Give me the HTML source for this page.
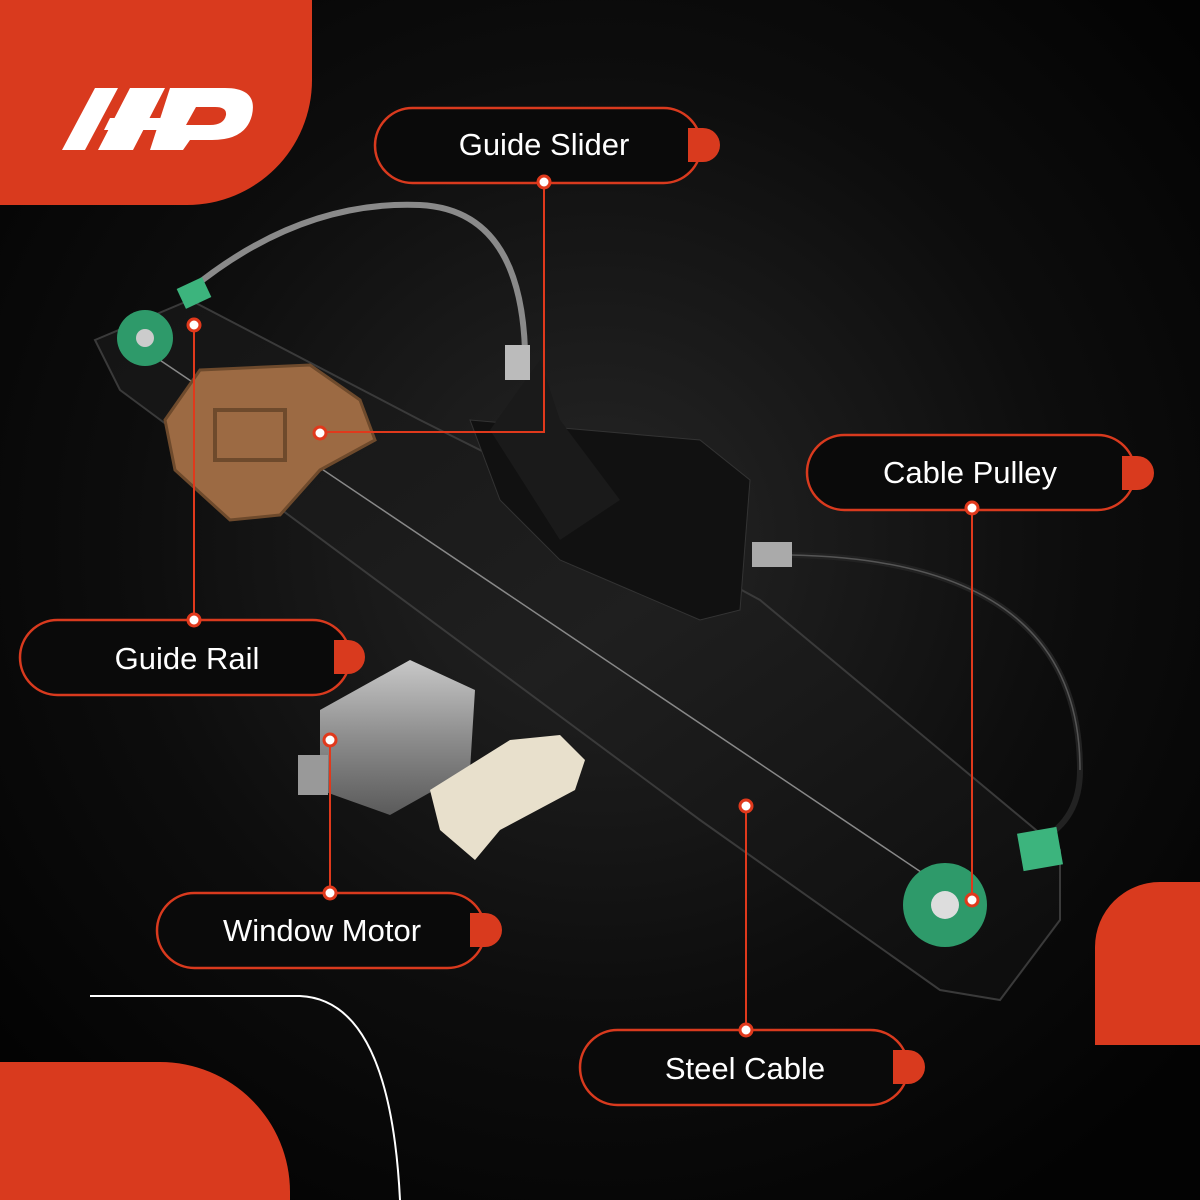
<!DOCTYPE html>
<html><head><meta charset="utf-8"><style>
html,body{margin:0;padding:0;background:#000}
svg{display:block}
text{font-family:"Liberation Sans",sans-serif}
</style></head><body>
<svg width="1200" height="1200" viewBox="0 0 1200 1200" xmlns="http://www.w3.org/2000/svg">
<defs>
<radialGradient id="bg" cx="50%" cy="45%" r="65%">
<stop offset="0" stop-color="#262626"/><stop offset="0.6" stop-color="#0d0d0d"/><stop offset="1" stop-color="#030303"/>
</radialGradient>
<linearGradient id="rail" x1="0" y1="0" x2="1" y2="1">
<stop offset="0" stop-color="#141414"/><stop offset="0.5" stop-color="#1f1f1f"/><stop offset="1" stop-color="#0c0c0c"/>
</linearGradient>
<linearGradient id="motor" x1="0" y1="0" x2="0" y2="1">
<stop offset="0" stop-color="#c8c8c8"/><stop offset="0.5" stop-color="#8d8d8d"/><stop offset="1" stop-color="#5a5a5a"/>
</linearGradient>
</defs>
<rect width="1200" height="1200" fill="url(#bg)"/>
<path d="M0 0 H312 V80 A125 125 0 0 1 187 205 H0 Z" fill="#d93a1e"/>
<path d="M1200 882 H1160 A65 65 0 0 0 1095 947 V1045 H1200 Z" fill="#d93a1e"/>
<path d="M0 1062 H160 A130 130 0 0 1 290 1192 V1200 H0 Z" fill="#d93a1e"/>
<path d="M90 996 H300 Q390 1000 400 1200" fill="none" stroke="#fff" stroke-width="2"/>
<g fill="#fff">
<polygon points="62,150 95,88 118,88 85,150"/>
<polygon points="98,150 130,88 165,88 133,150"/>
<polygon points="110,118 165,118 158,130 104,130"/>
<path d="M170 88 H225 Q258 88 252 115 Q246 140 212 140 H190 L183 150 H150 Z M196 107 L186 125 H210 Q224 125 226 115 Q227 107 215 107 Z" fill-rule="evenodd"/>
</g>
<polygon points="95,340 190,300 420,420 520,470 760,600 1060,850 1060,920 1000,1000 940,990 700,820 120,390" fill="url(#rail)" stroke="#3a3a3a" stroke-width="2"/>
<polygon points="470,420 700,440 750,480 740,610 700,620 560,560 500,500" fill="#111" stroke="#333"/>
<polygon points="490,430 540,360 560,420 620,500 560,540" fill="#1a1a1a"/>
<line x1="130" y1="340" x2="970" y2="905" stroke="#888" stroke-width="1.5"/>
<path d="M190 290 Q300 200 420 205 Q520 210 525 350" fill="none" stroke="#8a8a8a" stroke-width="6"/>
<path d="M790 555 Q1080 560 1080 770 Q1080 820 1040 840" fill="none" stroke="#222" stroke-width="6"/>
<path d="M790 555 Q1080 560 1080 770" fill="none" stroke="#555" stroke-width="1.5"/>
<rect x="752" y="542" width="40" height="25" fill="#aaa"/>
<rect x="505" y="345" width="25" height="35" fill="#bbb"/>
<polygon points="200,370 310,365 360,400 375,440 320,470 280,515 230,520 175,470 165,420" fill="#9c6a43" stroke="#6e4a2c" stroke-width="3"/>
<rect x="215" y="410" width="70" height="50" fill="none" stroke="#6e4a2c" stroke-width="4"/>
<circle cx="145" cy="338" r="28" fill="#2e9a6a"/><circle cx="145" cy="338" r="9" fill="#ccc"/>
<circle cx="945" cy="905" r="42" fill="#2e9a6a"/><circle cx="945" cy="905" r="14" fill="#ddd"/>
<rect x="180" y="282" width="28" height="22" fill="#3cb47d" transform="rotate(-25 194 293)"/>
<rect x="1020" y="830" width="40" height="38" fill="#3cb47d" transform="rotate(-10 1040 849)"/>
<polygon points="320,710 410,660 475,690 470,770 390,815 320,790" fill="url(#motor)"/>
<rect x="298" y="755" width="30" height="40" fill="#999"/>
<polygon points="430,790 510,740 560,735 585,760 575,790 500,830 475,860 440,830" fill="#e8e0cc"/>
<g stroke="#e0391c" stroke-width="2" fill="none">
<polyline points="544,182 544,432 320,432"/>
<polyline points="194,325 194,620"/>
<polyline points="972,508 972,900"/>
<polyline points="330,740 330,893"/>
<polyline points="746,806 746,1030"/>
</g>
<g stroke="#d93a1e" stroke-width="2.5" fill="#0a0a0a">
<rect x="375" y="108" width="326" height="75" rx="37.5"/>
<rect x="807" y="435" width="328" height="75" rx="37.5"/>
<rect x="20" y="620" width="330" height="75" rx="37.5"/>
<rect x="157" y="893" width="328" height="75" rx="37.5"/>
<rect x="580" y="1030" width="328" height="75" rx="37.5"/>
</g>
<g fill="#fff" stroke="#e0391c" stroke-width="3">
<circle cx="544" cy="182" r="6"/><circle cx="320" cy="433" r="6"/>
<circle cx="194" cy="325" r="6"/><circle cx="194" cy="620" r="6"/>
<circle cx="972" cy="508" r="6"/><circle cx="972" cy="900" r="6"/>
<circle cx="330" cy="740" r="6"/><circle cx="330" cy="893" r="6"/>
<circle cx="746" cy="806" r="6"/><circle cx="746" cy="1030" r="6"/>
</g>
<g fill="#d93a1e">
<path d="M688 128 H703 A17 17 0 0 1 703 162 H688 Z"/>
<path d="M1122 456 H1137 A17 17 0 0 1 1137 490 H1122 Z"/>
<path d="M334 640 H348 A17 17 0 0 1 348 674 H334 Z"/>
<path d="M470 913 H485 A17 17 0 0 1 485 947 H470 Z"/>
<path d="M893 1050 H908 A17 17 0 0 1 908 1084 H893 Z"/>
</g>
<g fill="#fff" font-size="31" text-anchor="middle">
<text x="544" y="155">Guide Slider</text>
<text x="970" y="483">Cable Pulley</text>
<text x="187" y="669">Guide Rail</text>
<text x="322" y="941">Window Motor</text>
<text x="745" y="1079">Steel Cable</text>
</g>
</svg>
</body></html>
